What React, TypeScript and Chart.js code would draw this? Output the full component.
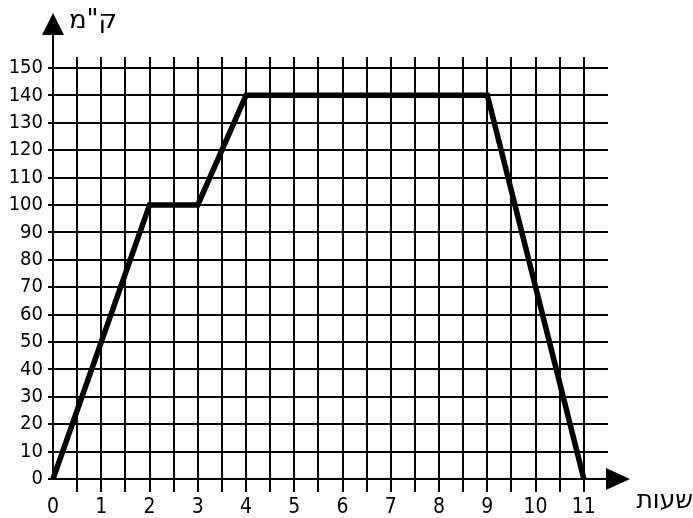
import React, { useEffect, useRef } from "react";
import { Chart, registerables } from "chart.js";

Chart.register(...registerables);

const hours = [0, 2, 3, 4, 9, 11];
const km = [0, 100, 100, 140, 140, 0];
const xTickValues = [0, 0.5, 1, 1.5, 2, 2.5, 3, 3.5, 4, 4.5, 5, 5.5, 6, 6.5, 7, 7.5, 8, 8.5, 9, 9.5, 10, 10.5, 11];
const yTickValues = [0, 10, 20, 30, 40, 50, 60, 70, 80, 90, 100, 110, 120, 130, 140, 150];
const yLabel = 'ק"מ';
const xLabel = "שעות";

const FONT = '"DejaVu Sans Condensed", "DejaVu Sans", sans-serif';

const axesPlugin = {
  id: "axesArrows",
  afterDraw(chart: any) {
    const ctx = chart.ctx;
    const xs = chart.scales.x;
    const ys = chart.scales.y;
    const x0 = xs.getPixelForValue(0);
    const y0 = ys.getPixelForValue(0);
    ctx.save();
    ctx.strokeStyle = "#000";
    ctx.fillStyle = "#000";
    ctx.lineWidth = 2;
    // y axis
    ctx.beginPath();
    ctx.moveTo(x0, y0);
    ctx.lineTo(x0, 34);
    ctx.stroke();
    ctx.beginPath();
    ctx.moveTo(x0, 13);
    ctx.lineTo(x0 - 11, 35);
    ctx.lineTo(x0 + 11, 35);
    ctx.closePath();
    ctx.fill();
    // x axis
    ctx.beginPath();
    ctx.moveTo(x0, y0);
    ctx.lineTo(607, y0);
    ctx.stroke();
    ctx.beginPath();
    ctx.moveTo(630, y0);
    ctx.lineTo(606, y0 - 11);
    ctx.lineTo(606, y0 + 11);
    ctx.closePath();
    ctx.fill();
    // labels
    ctx.textBaseline = "alphabetic";
    ctx.direction = "rtl";
    ctx.textAlign = "right";
    ctx.font = '26px "DejaVu Sans"';
    ctx.fillText(yLabel, 117, 28);
    ctx.font = '25px "DejaVu Sans"';
    ctx.fillText(xLabel, 693, 508);
    ctx.restore();
  },
};

export default function App() {
  const ref = useRef<HTMLCanvasElement>(null);
  useEffect(() => {
    if (!ref.current) return;
    const chart = new Chart(ref.current, {
      type: "line",
      data: {
        datasets: [
          {
            data: hours.map((h, i) => ({ x: h, y: km[i] })),
            borderColor: "#000",
            borderWidth: 5.5,
            pointRadius: 0,
            borderJoinStyle: "miter",
            tension: 0,
            clip: false as any,
          },
        ],
      },
      options: {
        responsive: false,
        animation: false,
        layout: { padding: { left: 0, right: 85, top: 57, bottom: 0 } },
        plugins: { legend: { display: false }, tooltip: { enabled: false } },
        scales: {
          x: {
            type: "linear",
            min: 0,
            max: 11.5,
            afterBuildTicks: (s: any) => {
              s.ticks = xTickValues.map((v) => ({ value: v }));
            },
            afterFit: (s: any) => {
              s.height = 39;
            },
            border: { display: false },
            grid: {
              color: (c: any) => (c.tick && c.tick.value === 0 ? "rgba(0,0,0,0)" : "#000"),
              lineWidth: 2,
              tickLength: 13,
            },
            ticks: {
              autoSkip: false,
              maxRotation: 0,
              padding: 3,
              color: "#000",
              font: { family: FONT, size: 21 },
              callback: (v: any) => (Number.isInteger(v) ? String(v) : ""),
            },
          },
          y: {
            type: "linear",
            min: 0,
            max: 154,
            afterBuildTicks: (s: any) => {
              s.ticks = yTickValues.map((v) => ({ value: v }));
            },
            afterFit: (s: any) => {
              s.width = 53;
            },
            border: { display: false },
            grid: { color: "#000", lineWidth: 2, tickLength: 5 },
            ticks: {
              autoSkip: false,
              padding: 5,
              color: "#000",
              font: { family: FONT, size: 20 },
            },
          },
        },
      },
      plugins: [axesPlugin],
    });
    return () => chart.destroy();
  }, []);
  return (
    <div style={{ position: "fixed", left: 0, top: 0, width: 693, height: 518, background: "#fff" }}>
      <canvas ref={ref} width={693} height={518} style={{ width: 693, height: 518, display: "block" }} />
    </div>
  );
}
